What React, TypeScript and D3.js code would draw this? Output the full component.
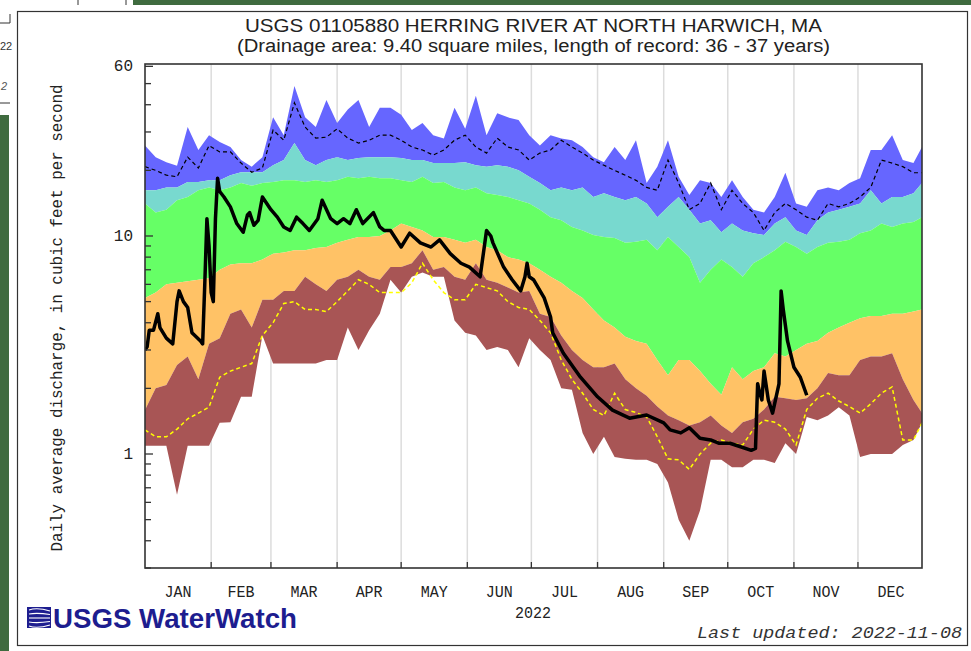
import React from 'react';
import * as d3 from 'd3';

const W = 971;
const H = 651;

const TITLE = 'USGS 01105880 HERRING RIVER AT NORTH HARWICH, MA';
const SUBTITLE = '(Drainage area: 9.40 square miles, length of record: 36 - 37 years)';
const Y_LABEL = 'Daily average discharge, in cubic feet per second';
const YEAR = '2022';
const UPDATED = 'Last updated: 2022-11-08';

const months = ['JAN', 'FEB', 'MAR', 'APR', 'MAY', 'JUN', 'JUL', 'AUG', 'SEP', 'OCT', 'NOV', 'DEC'];
const monthStarts = [0, 31, 59, 90, 120, 151, 181, 212, 243, 273, 304, 334, 365];

const yTicks = [0.3, 0.4, 0.5, 0.6, 0.7, 0.8, 0.9, 1, 2, 3, 4, 5, 6, 7, 8, 9, 10, 20, 30, 40, 50, 60];
const yLabels = [1, 10, 60];

// day of year of each sample of the statistics
const sampleDays = [0, 5, 10, 15, 20, 25, 30, 35, 40, 45, 50, 55, 60, 65, 70, 75, 80, 85, 90, 95,
  100, 105, 110, 115, 120, 125, 130, 135, 140, 145, 150, 155, 160, 165, 170, 175, 180, 185, 190, 195,
  200, 205, 210, 215, 220, 225, 230, 235, 240, 245, 250, 255, 260, 265, 270, 275, 280, 285, 290, 295,
  300, 305, 310, 315, 320, 325, 330, 335, 340, 345, 350, 355, 360, 364];

const maxFlow = [26, 23, 21.8, 21, 31.6, 24.8, 29, 27, 25.6, 22.3, 20.8, 23, 35, 29, 48.8, 35, 31.6, 42, 33, 38,
  42, 31.6, 38.7, 38.7, 36, 30.6, 33, 29, 28, 38.7, 31, 44, 29, 36.6, 35, 34, 29, 26, 29, 28,
  27.5, 25.6, 23, 21.8, 25.6, 22.3, 27.5, 17.5, 20.8, 27.5, 18.7, 15.4, 18, 17.5, 15.1, 18, 15.1, 13.2, 12.8, 15.1,
  19.5, 14.1, 13.6, 16.2, 16.7, 16.2, 17.5, 18.4, 24.8, 24.8, 29, 22.3, 21.6, 25.6];

const p90 = [16.2, 16.2, 16.7, 16.7, 17.7, 17.7, 18, 18, 19, 19.6, 19.6, 19.6, 21.1, 22.3, 26.7, 22.3, 21.1, 22.3, 23, 22.3,
  22.8, 23, 23, 23, 22.8, 22.3, 22.3, 21.6, 21.6, 21.6, 21.8, 21.1, 20.8, 21.1, 20.8, 20, 18.7, 17.5, 16.2, 16.7,
  16.2, 16.7, 15.1, 15.7, 15.1, 14.6, 15.1, 14.1, 12.2, 13.6, 15.1, 13.2, 11.4, 11.8, 10.4, 11.4, 10.6, 10.3, 10.1, 11.4,
  12.2, 10.6, 10.1, 11.8, 12.8, 13.2, 13.6, 14.1, 16.2, 14.1, 15.1, 15.1, 15.7, 17.5];

const p75 = [14.1, 12.8, 13.2, 14.6, 15.1, 16.2, 16.7, 16.2, 16.7, 17.5, 17, 17.5, 17.7, 18, 18, 17.7, 18, 17.7, 18, 18.7,
  18.4, 18.7, 18.4, 18.4, 18, 17.7, 18.7, 17.5, 17.7, 16.7, 16.2, 16.7, 15.7, 15.4, 15.1, 14.6, 14.1, 13.2, 12.2, 11.8,
  11, 10.6, 10.1, 9.9, 9.8, 9.3, 9.4, 9.6, 8.6, 9.9, 8.9, 8, 6.1, 7, 7.8, 7.2, 6.5, 7.5, 8, 8.6,
  9.4, 8.9, 8.3, 8.9, 9.3, 9.4, 9.6, 10.3, 10.6, 11.4, 11, 11.4, 11.6, 12.2];

const p25 = [5.2, 5.5, 6.0, 6.1, 6.2, 6.3, 6.4, 7.0, 7.4, 7.5, 7.5, 7.8, 8.3, 8.4, 8.6, 8.6, 8.8, 8.9, 9.3, 9.6,
  9.9, 9.9, 10, 10.6, 11.4, 11, 10.6, 9.9, 9.9, 9.6, 9.3, 9.6, 8.9, 8.6, 8, 7.8, 7.5, 7, 6.5, 6.1,
  5.6, 5.2, 4.6, 4.1, 3.8, 3.45, 3.3, 3.2, 2.7, 2.3, 2.7, 2.7, 2.4, 2.1, 1.87, 2.5, 2.2, 2.4, 2.5, 2.9,
  2.8, 3.0, 3.2, 3.3, 3.6, 3.8, 4.0, 4.2, 4.3, 4.3, 4.4, 4.4, 4.5, 4.6];

const p10 = [1.59, 2.0, 2.07, 2.56, 2.8, 2.2, 3.2, 3.4, 4.4, 4.6, 3.8, 5.1, 5.1, 5.6, 5.6, 6.5, 6, 5.6, 6.3, 6.5,
  7, 6.5, 6.3, 7.2, 7.2, 7.5, 8.6, 7, 7.2, 6.5, 6.3, 7.5, 6.3, 6.1, 5.8, 5.5, 5.6, 4.4, 4.25, 3.5,
  3.0, 2.7, 2.5, 2.5, 2.6, 2.2, 2.0, 1.85, 1.65, 1.5, 1.43, 1.35, 1.4, 1.5, 1.35, 1.25, 1.4, 1.45, 1.6, 1.83,
  1.8, 1.77, 1.8, 2.0, 2.35, 2.3, 2.3, 2.7, 2.8, 2.8, 2.9, 2.2, 1.77, 1.54];

const minFlow = [1.09, 1.09, 1.09, 0.65, 1.09, 1.09, 1.09, 1.39, 1.4, 1.83, 1.83, 3.5, 2.6, 2.6, 2.6, 2.6, 2.6, 2.7, 2.7, 3.8,
  3.0, 3.7, 4.4, 6.3, 5.5, 6.5, 6.8, 6.5, 6.5, 4.1, 3.6, 3.5, 3.0, 3.1, 3.0, 2.5, 3.4, 3.0, 2.7, 2.0,
  1.97, 1.25, 1.0, 1.2, 0.97, 0.95, 0.94, 0.94, 0.9, 0.74, 0.5, 0.4, 0.55, 0.94, 0.94, 0.87, 0.87, 0.94, 0.94, 0.91,
  1.12, 1.0, 1.48, 1.43, 1.5, 1.64, 1.5, 0.97, 1.0, 1.0, 1.0, 1.1, 1.16, 1.39];

const medianFlow = [20.8, 20, 19, 18.7, 23, 20.5, 26, 24.3, 24.3, 21.6, 19.6, 20.5, 30.6, 27.5, 40.8, 31.6, 28.1, 28.4, 31, 28.1,
  26.7, 27.5, 29, 29, 27.5, 25.6, 24.8, 23.5, 24.8, 27.5, 29, 25.6, 24, 28.1, 25.6, 24.8, 22.3, 24, 24.8, 27.5,
  25.6, 24, 22.3, 21.1, 20, 19, 18, 16.7, 16.2, 22.3, 17.5, 13.2, 14.1, 17.5, 13.2, 16.2, 14.1, 12.8, 10.6, 12.8,
  14.1, 13.2, 12.2, 11.8, 14.1, 13.6, 14.1, 15.1, 16.7, 22.3, 21.6, 20.8, 19.5, 19.5];

const lowFlow = [1.29, 1.2, 1.2, 1.3, 1.45, 1.54, 1.64, 2.25, 2.4, 2.5, 2.6, 3.5, 4.0, 4.9, 5.0, 4.6, 4.6, 4.5, 5.0, 5.6,
  6.3, 6.0, 5.5, 5.5, 5.5, 6.1, 7.5, 6.3, 5.5, 5.1, 5.1, 6.0, 5.8, 5.6, 5.0, 4.7, 4.6, 4.1, 3.6, 2.7,
  2.2, 1.9, 1.6, 1.5, 1.9, 1.6, 1.55, 1.48, 1.2, 0.95, 0.94, 0.85, 1.0, 1.12, 1.16, 1.12, 1.1, 1.3, 1.43, 1.4,
  1.3, 1.1, 1.6, 1.8, 1.9, 1.75, 1.65, 1.54, 1.7, 1.9, 2.03, 1.16, 1.16, 1.39];

// 2022 observed daily discharge
const obsDays = [0, 1, 2, 4, 6, 7, 10, 13, 15, 16, 18, 20, 22, 26, 27, 28, 29, 30, 31, 32, 33, 34, 35, 37, 40, 43, 46, 48, 49, 51,
  53, 55, 59, 62, 65, 68, 71, 74, 77, 81, 83, 87, 90, 93, 96, 99, 102, 107, 110, 112, 115, 120, 124, 129, 134, 138, 143, 148, 152, 157,
  159, 160, 162, 163, 168, 172, 176, 178, 179, 180, 182, 187, 190, 191, 196, 204, 212, 219, 227, 235, 243, 246, 251, 255, 260, 265, 269, 274, 279, 284,
  286, 287, 288, 289, 290, 292, 294, 297, 298, 299, 301, 304, 307, 310];
const obsFlow = [3.0, 3.1, 3.7, 3.7, 4.4, 3.8, 3.4, 3.2, 5.0, 5.6, 5.0, 4.7, 3.6, 3.3, 3.2, 6.0, 12.0, 9.0, 5.5, 5.0, 12.0, 18.4, 16.0, 15.1, 13.6, 11.4, 10.4, 12.5, 12.8, 11.2,
  11.8, 15.1, 13.2, 12.2, 11.0, 10.6, 12.2, 11.4, 10.6, 12.0, 14.6, 12.0, 11.4, 12.0, 11.4, 13.2, 11.4, 12.8, 11.0, 10.6, 10.6, 8.9, 10.3, 9.3, 8.9, 9.6, 8.3, 7.5, 7.2, 6.5,
  9.0, 10.6, 10.0, 9.3, 7.2, 6.3, 5.6, 6.5, 7.5, 6.5, 6.3, 5.2, 4.25, 3.6, 2.9, 2.25, 1.83, 1.59, 1.46, 1.51, 1.39, 1.29, 1.25, 1.32, 1.18, 1.16, 1.12, 1.12, 1.08, 1.04,
  1.06, 2.1, 1.9, 1.77, 2.4, 1.77, 1.54, 2.1, 5.6, 4.6, 3.3, 2.5, 2.25, 1.86];

const COLORS = {
  max: '#6666ff',
  high: '#78d9cf',
  normal: '#66ff66',
  below: '#ffc266',
  low: '#a85555',
};

const mono = "'Liberation Mono', 'DejaVu Sans Mono', monospace";
const sans = "'Liberation Sans', Arial, sans-serif";

export default function App() {
  const left = 145, right = 922, top = 64, bottom = 568;
  const x = d3.scaleLinear().domain([0, 364]).range([left, right]);
  const y = d3.scaleLog().domain([0.3, 61.5]).range([bottom, top]);

  const band = (lo: number[], hi: number[]) =>
    d3.area<number>()
      .x((d) => x(d))
      .y0((_, i) => y(lo[i]))
      .y1((_, i) => y(hi[i]))(sampleDays) || '';

  const line = (vals: number[], days: number[]) =>
    d3.line<number>()
      .x((d) => x(d))
      .y((_, i) => y(vals[i]))(days) || '';

  return (
    <svg width={W} height={H} viewBox={`0 0 ${W} ${H}`}
      style={{ position: 'absolute', left: 0, top: 0, background: '#fff', display: 'block' }}>
      <rect x={0} y={0} width={W} height={H} fill="#fff" />
      {/* page context fragments */}
      <rect x={133} y={0} width={W - 133} height={5} fill="#3f6b3f" />
      <rect x={0} y={115} width={9} height={H - 115} fill="#3f6b3f" />
      <line x1={78} y1={0} x2={78} y2={5} stroke="#333" />
      <line x1={126} y1={0} x2={126} y2={5} stroke="#333" />
      <line x1={10} y1={14} x2={10} y2={23} stroke="#333" />
      <line x1={0} y1={23} x2={10} y2={23} stroke="#333" />
      <text x={0} y={50} fontFamily={sans} fontSize={11} fill="#333">22</text>
      <text x={1} y={90} fontFamily={sans} fontSize={11} fontStyle="italic" fill="#555">2</text>
      <line x1={0} y1={103} x2={10} y2={103} stroke="#333" />
      <rect x={17.5} y={11.5} width={950} height={634} fill="none" stroke="#333" strokeWidth={1.2} />

      {/* titles */}
      <text x={533.5} y={32} textAnchor="middle" fontFamily={sans} fontSize={18} fill="#222"
        textLength={577} lengthAdjust="spacingAndGlyphs">{TITLE}</text>
      <text x={533.5} y={52} textAnchor="middle" fontFamily={sans} fontSize={18} fill="#222"
        textLength={593} lengthAdjust="spacingAndGlyphs">{SUBTITLE}</text>

      <defs>
        <clipPath id="plotClip">
          <rect x={left} y={top} width={right - left} height={bottom - top} />
        </clipPath>
      </defs>

      {/* grid */}
      {monthStarts.slice(1, 12).map((d) => (
        <line key={d} x1={x(d)} x2={x(d)} y1={top} y2={bottom} stroke="#dcdcdc" strokeWidth={1.5} />
      ))}

      <g clipPath="url(#plotClip)">
        <path d={band(p90, maxFlow)} fill={COLORS.max} />
        <path d={band(p75, p90)} fill={COLORS.high} />
        <path d={band(p25, p75)} fill={COLORS.normal} />
        <path d={band(p10, p25)} fill={COLORS.below} />
        <path d={band(minFlow, p10)} fill={COLORS.low} />
        <path d={line(medianFlow, sampleDays)} fill="none" stroke="#000" strokeWidth={1.2} strokeDasharray="4,3" />
        <path d={line(lowFlow, sampleDays)} fill="none" stroke="#ffff00" strokeWidth={1.5} strokeDasharray="4,3" />
        <path d={line(obsFlow, obsDays)} fill="none" stroke="#000" strokeWidth={3.5} strokeLinejoin="round" />
      </g>

      {/* frame */}
      <rect x={left} y={top} width={right - left} height={bottom - top} fill="none" stroke="#333" strokeWidth={1.6} />

      {/* y ticks */}
      {yTicks.map((v) => (
        <line key={v} x1={left} x2={left + (yLabels.includes(v) ? 8 : 6)} y1={y(v)} y2={y(v)} stroke="#333" strokeWidth={1.3} />
      ))}
      {yLabels.map((v) => (
        <text key={v} x={133} y={y(v) + 5} textAnchor="end" fontFamily={mono} fontSize={16} fill="#222">{v}</text>
      ))}

      {/* x ticks and labels */}
      {monthStarts.slice(1, 12).map((d) => (
        <line key={d} x1={x(d)} x2={x(d)} y1={bottom} y2={bottom - 6} stroke="#333" strokeWidth={1.3} />
      ))}
      {months.map((m, i) => (
        <text key={m} x={x((monthStarts[i] + monthStarts[i + 1]) / 2)} y={597} textAnchor="middle"
          fontFamily={mono} fontSize={16} fill="#222" textLength={27} lengthAdjust="spacingAndGlyphs">{m}</text>
      ))}
      <text x={533} y={618} textAnchor="middle" fontFamily={mono} fontSize={16} fill="#222"
        textLength={36} lengthAdjust="spacingAndGlyphs">{YEAR}</text>

      <text transform={`translate(62,318) rotate(-90)`} textAnchor="middle" fontFamily={mono} fontSize={16}
        fill="#222" textLength={467} lengthAdjust="spacingAndGlyphs">{Y_LABEL}</text>

      <text x={962} y={638} textAnchor="end" fontFamily={mono} fontSize={16} fontStyle="italic" fill="#333"
        textLength={265} lengthAdjust="spacingAndGlyphs">{UPDATED}</text>

      {/* logo */}
      <g>
        <rect x={27} y={607} width={24} height={21} fill="#1d1d8f" />
        {[610, 614, 618, 622, 626].map((yy, i) => (
          <path key={yy} d={`M29,${yy} Q37,${yy + (i - 2) * 1.5} 50,${618 + (i - 2) * 3.5}`} fill="none" stroke="#fff" strokeWidth={1.1} />
        ))}
        <text x={53} y={628} fontFamily={sans} fontWeight="bold" fontSize={28} fill="#1d1d8f"
          textLength={244} lengthAdjust="spacingAndGlyphs">USGS WaterWatch</text>
      </g>
    </svg>
  );
}
